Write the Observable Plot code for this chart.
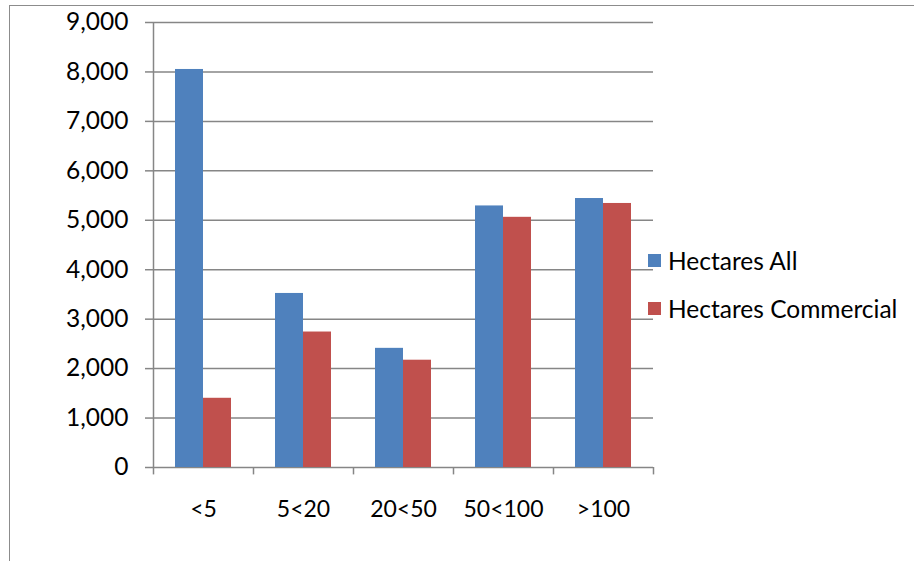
<!DOCTYPE html>
<html>
<head>
<meta charset="utf-8">
<script src="https://cdn.jsdelivr.net/npm/d3@7"></script>
<script src="https://cdn.jsdelivr.net/npm/@observablehq/plot@0.6"></script>
<style>
  html, body { margin: 0; padding: 0; background: #fff; overflow: hidden; }
  #wrap { position: relative; width: 914px; height: 561px; font-family: Lato, "Open Sans", sans-serif; }
  #frame { position: absolute; left: 9px; top: 5px; width: 930px; height: 600px; border: 1.5px solid #8c8c8c; box-sizing: border-box; }
  #chart { position: absolute; left: 0; top: 0; }
  #legend { position: absolute; left: 648px; top: 236px; font-size: 24.5px; color: #000; white-space: nowrap; }
  .item { display: flex; align-items: center; height: 48px; }
  .sw { width: 13px; height: 13px; margin-right: 7px; }
</style>
</head>
<body>
<div id="wrap">
  <div id="frame"></div>
  <div id="chart"></div>
  <div id="legend"></div>
</div>
<script>
const categories = ["<5", "5<20", "20<50", "50<100", ">100"];
const series = ["Hectares All", "Hectares Commercial"];
const hectaresAll = [8050, 3520, 2410, 5290, 5440];
const hectaresCommercial = [1400, 2740, 2170, 5060, 5340];
const yTicks = [0, 1000, 2000, 3000, 4000, 5000, 6000, 7000, 8000, 9000];
const colors = ["#4F81BD", "#C0504D"];

const rows = categories.map((c, i) => ({category: c, all: hectaresAll[i], commercial: hectaresCommercial[i]}));
const grid = "#868686";

const chart = Plot.plot({
  width: 914,
  height: 561,
  marginLeft: 153,
  marginRight: 261,
  marginTop: 22,
  marginBottom: 94,
  style: {fontFamily: "Lato, 'Open Sans', sans-serif", fontSize: "23px", color: "#000", background: "transparent", overflow: "visible"},
  x: {domain: categories, padding: 0, label: null},
  y: {domain: [0, 9000], label: null},
  marks: [
    Plot.ruleY(yTicks, {stroke: grid, strokeWidth: 1.5}),
    Plot.ruleX([categories[0]], {x: d => d, dx: -50, y1: 0, y2: 9000, stroke: grid, strokeWidth: 1.5}),
    Plot.ruleX(categories, {x: d => d, dx: -50, y1: 0, y2: -150, stroke: grid, strokeWidth: 1.5}),
    Plot.ruleX([categories[categories.length - 1]], {x: d => d, dx: 50, y1: 0, y2: -150, stroke: grid, strokeWidth: 1.5}),
    Plot.barY(rows, {x: "category", y: "all", fill: colors[0], insetLeft: 22, insetRight: 50}),
    Plot.barY(rows, {x: "category", y: "commercial", fill: colors[1], insetLeft: 50, insetRight: 22}),
    Plot.axisY({ticks: yTicks, tickFormat: d3.format(","), tickSize: 8, stroke: grid, strokeWidth: 1.5, tickPadding: 17, fontSize: 24.5}),
    Plot.axisX({tickSize: 0, tickPadding: 33, fontSize: 23})
  ]
});
document.getElementById("chart").appendChild(chart);

const legend = document.getElementById("legend");
series.forEach((s, i) => {
  const item = document.createElement("div");
  item.className = "item";
  const sw = document.createElement("div");
  sw.className = "sw";
  sw.style.background = colors[i];
  item.appendChild(sw);
  const t = document.createElement("span");
  t.textContent = s;
  item.appendChild(t);
  legend.appendChild(item);
});
</script>
</body>
</html>
